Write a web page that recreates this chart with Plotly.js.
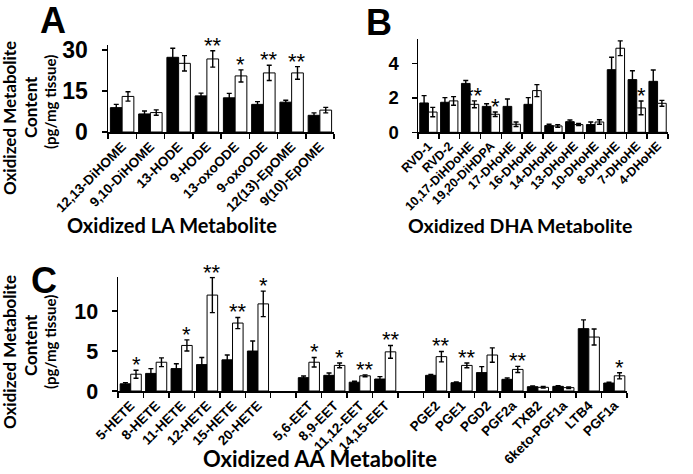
<!DOCTYPE html>
<html><head><meta charset="utf-8">
<script src="https://cdn.plot.ly/plotly-3.0.1.min.js"></script>
<style>html,body{margin:0;padding:0;background:#fff}</style>
</head><body><div id="chart" style="width:693px;height:474px"></div>
<script>
// ---- Panel A: oxidized LA metabolites ----
const laCats = ["12,13-DiHOME","9,10-DiHOME","13-HODE","9-HODE","13-oxoODE","9-oxoODE","12(13)-EpOME","9(10)-EpOME"];
const laCtrl = [8.9, 6.6, 27.3, 13.2, 12.5, 10.1, 10.9, 6.1];
const laCtrlErr = [1.2, 1.1, 3.3, 1.0, 1.6, 1.0, 0.7, 0.9];
const laTrt = [13.0, 7.1, 25.1, 26.7, 20.5, 21.6, 21.6, 8.0];
const laTrtErr = [1.7, 1.0, 2.8, 3.0, 2.2, 2.8, 2.3, 1.0];
const laSig = ["", "", "", "**", "*", "**", "**", ""];
const laTicks = [0, 15, 30];

// ---- Panel B: oxidized DHA metabolites ----
const dhaCats = ["RVD-1","RVD-2","10,17-DiHDoHE","19,20-DiHDPA","17-DHoHE","16-DHoHE","14-DHoHE","13-DHoHE","10-DHoHE","8-DHoHE","7-DHoHE","4-DHoHE"];
const dhaCtrl = [1.71, 1.75, 2.85, 1.51, 1.51, 1.63, 0.39, 0.62, 0.45, 3.65, 3.07, 2.97];
const dhaCtrlErr = [0.43, 0.27, 0.17, 0.15, 0.43, 0.39, 0.08, 0.10, 0.15, 0.72, 0.52, 0.66];
const dhaTrt = [1.18, 1.83, 1.63, 1.05, 0.47, 2.43, 0.37, 0.45, 0.60, 4.90, 1.42, 1.69];
const dhaTrtErr = [0.27, 0.25, 0.20, 0.13, 0.13, 0.35, 0.08, 0.06, 0.13, 0.43, 0.40, 0.17];
const dhaSig = ["", "", "**", "*", "", "", "", "", "", "", "*", ""];
const dhaTicks = [0, 2, 4];

// ---- Panel C: oxidized AA metabolites (blank categories are spacers) ----
const aaCats = ["5-HETE","8-HETE","11-HETE","12-HETE","15-HETE","20-HETE"," ","5,6-EET","8,9-EET","11,12-EET","14,15-EET","  ","PGE2","PGE1","PGD2","PGF2a","TXB2","6keto-PGF1a","LTB4","PGF1a"];
const aaCtrl = [0.9, 2.2, 2.8, 3.3, 3.9, 5.0, null, 1.67, 1.96, 1.1, 1.5, null, 1.96, 1.04, 2.3, 1.46, 0.54, 0.58, 7.8, 1.0];
const aaCtrlErr = [0.15, 0.6, 0.6, 0.9, 0.6, 1.25, null, 0.2, 0.3, 0.12, 0.3, null, 0.12, 0.08, 0.75, 0.17, 0.1, 0.08, 1.1, 0.1];
const aaTrt = [2.1, 3.6, 5.7, 12.0, 8.5, 10.9, null, 3.6, 3.2, 1.9, 4.9, null, 4.3, 3.2, 4.5, 2.7, 0.46, 0.42, 6.75, 1.9];
const aaTrtErr = [0.5, 0.55, 0.7, 2.2, 0.7, 1.6, null, 0.6, 0.3, 0.12, 0.8, null, 0.65, 0.3, 0.9, 0.38, 0.1, 0.1, 1.0, 0.38];
const aaSig = ["*", "", "*", "**", "**", "*", "", "*", "*", "**", "**", "", "**", "**", "", "**", "", "", "", "*"];
const aaTicks = [0, 5, 10];

const W = 693, H = 474;
const BARGAP = 0.17;
const px = v => v / W;
const py = v => 1 - v / H;
const SANS = "Liberation Sans, Arial, sans-serif";

const panels = [
  {cats: laCats, c: laCtrl, ce: laCtrlErr, t: laTrt, te: laTrtErr, sig: laSig, ticks: laTicks,
   xa: "x", ya: "y", xd: [108, 334], yd: [132, 45], ymax: 31.8, yfs: 23, xfs: 13.5},
  {cats: dhaCats, c: dhaCtrl, ce: dhaCtrlErr, t: dhaTrt, te: dhaTrtErr, sig: dhaSig, ticks: dhaTicks,
   xa: "x2", ya: "y2", xd: [418, 668], yd: [132.3, 39.3], ymax: 5.42, yfs: 18.5, xfs: 12.5},
  {cats: aaCats, c: aaCtrl, ce: aaCtrlErr, t: aaTrt, te: aaTrtErr, sig: aaSig, ticks: aaTicks,
   xa: "x3", ya: "y3", xd: [118, 627], yd: [391, 276.7], ymax: 14.3, yfs: 21.5, xfs: 13.5}
];

const traces = [];
const annotations = [];
const layout = {
  width: W, height: H, margin: {l: 0, r: 0, t: 0, b: 0},
  paper_bgcolor: "#fff", plot_bgcolor: "rgba(0,0,0,0)",
  barmode: "group", bargap: BARGAP, bargroupgap: 0, showlegend: false,
  annotations: annotations
};

panels.forEach((p, i) => {
  const errStyle = arr => ({type: "data", array: arr, visible: true, color: "#000", thickness: 1.4, width: 2.5});
  traces.push({type: "bar", x: p.cats, y: p.c, error_y: errStyle(p.ce), xaxis: p.xa, yaxis: p.ya,
    marker: {color: "#000", line: {color: "#000", width: 1}}, hoverinfo: "skip"});
  traces.push({type: "bar", x: p.cats, y: p.t, error_y: errStyle(p.te), xaxis: p.xa, yaxis: p.ya,
    marker: {color: "#fff", line: {color: "#000", width: 1}}, hoverinfo: "skip"});
  const n = i === 0 ? "" : String(i + 1);
  layout["xaxis" + n] = {
    domain: [px(p.xd[0]), px(p.xd[1])], anchor: p.ya, type: "category",
    categoryorder: "array", categoryarray: p.cats,
    tickson: "boundaries", ticks: "outside", ticklen: 5, tickwidth: 1.5, tickcolor: "#000",
    showline: true, linecolor: "#000", linewidth: 1.5, showgrid: false, zeroline: false,
    tickangle: -45, tickfont: {family: SANS, size: p.xfs, weight: 700, color: "#000"},
    fixedrange: true
  };
  layout["yaxis" + n] = {
    domain: [py(p.yd[0]), py(p.yd[1])], anchor: p.xa, range: [0, p.ymax],
    tickmode: "array", tickvals: p.ticks, ticktext: p.ticks.map(String),
    ticks: "outside", ticklen: 5, tickwidth: 1.5, tickcolor: "#000", ticklabelstandoff: 9,
    showline: true, linecolor: "#000", linewidth: 1.5, showgrid: false, zeroline: false,
    tickfont: {family: SANS, size: p.yfs, weight: 700, color: "#000"},
    fixedrange: true
  };
  // significance stars above the white (treated) bars
  const catW = (p.xd[1] - p.xd[0]) / p.cats.length;
  const shift = catW * (1 - BARGAP) / 4;
  p.sig.forEach((s, k) => {
    if (!s) return;
    annotations.push({x: p.cats[k], y: p.t[k] + p.te[k], xref: p.xa, yref: p.ya,
      text: s, showarrow: false, xanchor: "center", yanchor: "bottom", xshift: shift, yshift: -9,
      font: {family: SANS, size: 22, color: "#000"}});
  });
});

function label(text, x, y, size, opts) {
  annotations.push(Object.assign({text: text, x: px(x), y: py(y), xref: "paper", yref: "paper",
    showarrow: false, xanchor: "center", yanchor: "middle",
    font: {family: "Lato, Open Sans, sans-serif", size: size, weight: 700, color: "#000"}}, opts || {}));
}
// panel letters
[["A", 53, -2], ["B", 379, 0], ["C", 44, 258]].forEach(d => {
  annotations.push({text: d[0], x: px(d[1]), y: py(d[2]), xref: "paper", yref: "paper", showarrow: false,
    xanchor: "center", yanchor: "top",
    font: {family: SANS, size: 36, weight: 700, color: "#000"}});
});
// x-axis titles
label("Oxidized LA Metabolite", 172, 225, 20);
label("Oxidized DHA Metabolite", 520, 225, 19.5);
label("Oxidized AA Metabolite", 320, 474, 22, {yanchor: "bottom"});
// y-axis titles (panels A and C)
[[118, 107, 102], [352, 345, 342]].forEach(c => {
  label("Oxidized Metabolite", 9, c[0], 17, {textangle: -90});
  label("Content", 30, c[1], 17, {textangle: -90});
  label("(pg/mg tissue)", 50, c[2], 15, {textangle: -90});
});

Plotly.newPlot("chart", traces, layout, {staticPlot: true, displayModeBar: false});
</script></body></html>
